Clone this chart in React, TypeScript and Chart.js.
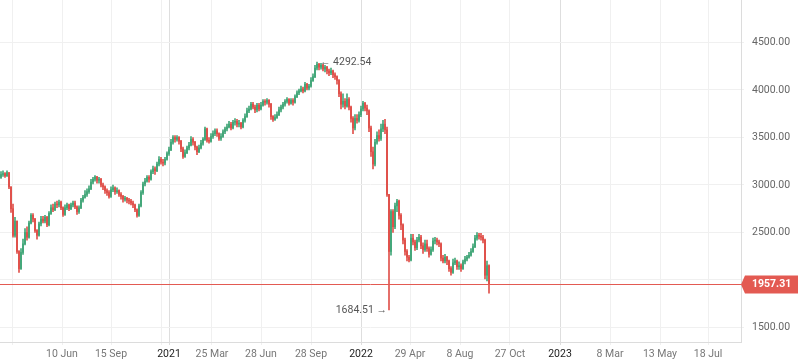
import React, { useEffect, useRef } from 'react';
import { Chart, registerables } from 'chart.js';

Chart.register(...registerables);

// Candles, one per slot. Open = previous close.
const closes: number[] = [
  3110, 3120, 3095, 3130, 2980, 2750, 2470, 2620, 2300, 2120,
  2290, 2380, 2500, 2450, 2600, 2680, 2640, 2520, 2470, 2590,
  2640, 2620, 2660, 2580, 2700, 2760, 2740, 2800, 2790, 2820,
  2760, 2690, 2760, 2790, 2750, 2790, 2810, 2770, 2720, 2760,
  2840, 2870, 2900, 2930, 2960, 3030, 3060, 3085, 3050, 3060,
  3000, 2980, 2940, 2920, 2880, 2950, 2970, 2930, 2940, 2900,
  2880, 2850, 2860, 2840, 2830, 2810, 2790, 2740, 2680, 2780,
  2920, 3010, 3040, 3080, 3060, 3140, 3170, 3150, 3220, 3270,
  3240, 3230, 3270, 3330, 3370, 3450, 3500, 3480, 3500, 3460,
  3380, 3300, 3340, 3390, 3420, 3480, 3450, 3400, 3350, 3390,
  3440, 3480, 3590, 3470, 3460, 3510, 3540, 3570, 3540, 3490,
  3510, 3560, 3590, 3610, 3640, 3600, 3660, 3670, 3640, 3650,
  3610, 3680, 3720, 3780, 3800, 3850, 3820, 3790, 3840, 3800,
  3840, 3880, 3870, 3890, 3850, 3720, 3690, 3710, 3740, 3790,
  3820, 3850, 3880, 3900, 3860, 3890, 3870, 3930, 3970, 3990,
  4010, 3990, 4060, 4020, 4040, 4100, 4140, 4230, 4270, 4240,
  4260, 4220, 4240, 4200, 4180, 4200, 4160, 4140, 4100, 3960,
  3850, 3880, 3830, 3900, 3820, 3700, 3600, 3700, 3680, 3740,
  3800, 3860, 3810, 3780, 3600, 3350, 3220, 3450, 3520, 3490,
  3590, 3640, 3580, 2900, 2300, 2720, 2560, 2780, 2830, 2680,
  2580, 2420, 2300, 2240, 2210, 2440, 2400, 2340, 2420, 2450,
  2360, 2320, 2380, 2330, 2270, 2320, 2410, 2420, 2400, 2380,
  2230, 2200, 2240, 2200, 2120, 2080, 2180, 2200, 2140, 2150,
  2120, 2190, 2220, 2240, 2260, 2300, 2350, 2440, 2470, 2460,
  2450, 2420, 2050, 2150, 1957.31,
];

const highs: number[] = [
  3140, 3150, 3130, 3150, 3130, 2980, 2800, 2660, 2620, 2310,
  2330, 2430, 2540, 2560, 2620, 2700, 2700, 2650, 2530, 2610,
  2670, 2670, 2680, 2670, 2720, 2790, 2800, 2820, 2830, 2840,
  2830, 2770, 2790, 2810, 2800, 2810, 2830, 2830, 2780, 2780,
  2860, 2890, 2940, 2960, 2990, 3060, 3080, 3100, 3090, 3080,
  3070, 3020, 2990, 2960, 2940, 2980, 3000, 2980, 2970, 2950,
  2920, 2890, 2880, 2870, 2860, 2850, 2830, 2800, 2750, 2800,
  2940, 3030, 3070, 3100, 3100, 3160, 3200, 3190, 3240, 3300,
  3290, 3270, 3290, 3350, 3400, 3480, 3520, 3520, 3520, 3510,
  3470, 3400, 3370, 3410, 3450, 3510, 3500, 3460, 3410, 3420,
  3470, 3500, 3610, 3600, 3500, 3540, 3570, 3590, 3590, 3550,
  3540, 3580, 3610, 3640, 3670, 3660, 3680, 3700, 3690, 3680,
  3660, 3700, 3750, 3810, 3830, 3870, 3870, 3840, 3860, 3860,
  3870, 3900, 3900, 3910, 3900, 3860, 3730, 3740, 3770, 3820,
  3840, 3870, 3900, 3920, 3910, 3910, 3910, 3950, 3990, 4010,
  4040, 4030, 4080, 4070, 4060, 4130, 4170, 4260, 4292.54, 4280,
  4280, 4270, 4260, 4250, 4220, 4230, 4210, 4180, 4150, 4110,
  3980, 3960, 3910, 3960, 3920, 3830, 3720, 3740, 3740, 3770,
  3830, 3880, 3870, 3840, 3790, 3620, 3400, 3480, 3560, 3580,
  3640, 3680, 3690, 3610, 2900, 2740, 2740, 2810, 2850, 2840,
  2700, 2590, 2440, 2320, 2260, 2480, 2480, 2420, 2450, 2480,
  2470, 2390, 2420, 2420, 2350, 2350, 2440, 2450, 2440, 2420,
  2390, 2260, 2270, 2250, 2210, 2140, 2220, 2230, 2210, 2190,
  2170, 2210, 2250, 2260, 2290, 2330, 2380, 2470, 2500, 2490,
  2490, 2470, 2430, 2200, 2160,
];

const lows: number[] = [
  3070, 3090, 3080, 3090, 2960, 2710, 2450, 2450, 2280, 2080,
  2110, 2270, 2370, 2420, 2440, 2590, 2610, 2500, 2430, 2460,
  2570, 2600, 2600, 2560, 2570, 2690, 2720, 2730, 2760, 2770,
  2740, 2670, 2680, 2740, 2730, 2740, 2770, 2750, 2690, 2700,
  2750, 2820, 2860, 2880, 2910, 2950, 3010, 3040, 3020, 3020,
  2980, 2950, 2910, 2890, 2860, 2870, 2930, 2900, 2910, 2880,
  2850, 2820, 2830, 2810, 2800, 2790, 2760, 2720, 2660, 2670,
  2770, 2900, 2990, 3030, 3030, 3050, 3120, 3110, 3140, 3200,
  3220, 3200, 3210, 3260, 3310, 3360, 3430, 3450, 3460, 3430,
  3350, 3280, 3290, 3330, 3370, 3410, 3420, 3370, 3320, 3340,
  3380, 3420, 3470, 3450, 3440, 3450, 3490, 3520, 3510, 3470,
  3470, 3500, 3540, 3570, 3600, 3580, 3590, 3630, 3610, 3610,
  3590, 3600, 3660, 3710, 3760, 3790, 3800, 3760, 3770, 3780,
  3790, 3830, 3840, 3850, 3820, 3690, 3670, 3680, 3700, 3730,
  3770, 3800, 3830, 3860, 3840, 3850, 3840, 3860, 3920, 3950,
  3980, 3970, 3980, 4000, 4000, 4030, 4090, 4130, 4210, 4210,
  4220, 4200, 4190, 4170, 4150, 4160, 4130, 4110, 4060, 3930,
  3800, 3820, 3800, 3820, 3790, 3660, 3540, 3580, 3650, 3660,
  3720, 3780, 3780, 3740, 3560, 3300, 3170, 3200, 3430, 3460,
  3470, 3560, 3540, 2880, 1684.51, 2260, 2500, 2540, 2720, 2640,
  2530, 2380, 2260, 2200, 2190, 2200, 2370, 2310, 2320, 2400,
  2330, 2280, 2300, 2300, 2240, 2260, 2300, 2380, 2370, 2350,
  2200, 2180, 2180, 2160, 2090, 2050, 2070, 2160, 2110, 2110,
  2090, 2110, 2170, 2200, 2230, 2250, 2290, 2340, 2420, 2430,
  2420, 2390, 2010, 1990, 1862,
];
const firstOpen = 3080;

// Annotated candles
const peakIndex = 158;
const troughIndex = 194;
const lastPrice = 1957.31;

// Time-axis ticks (slot index of each date mark) and their labels
const tickSlots = [5.5, 30.5, 55, 80, 84, 105.5, 130, 155, 180, 204.5, 229.5, 254.5, 279.5, 304.5, 329.5, 353.5];
const tickLabels = ['', '10 Jun', '15 Sep', '', '2021', '25 Mar', '28 Jun', '28 Sep', '2022', '29 Apr', '8 Aug', '27 Oct', '2023', '8 Mar', '13 May', '18 Jul'];
const yearLabels = ['2021', '2022', '2023'];
const priceTicks = [1500, 2000, 2500, 3000, 3500, 4000, 4500];

const UP = '#45a87b';
const DOWN = '#e0524c';
const PRICE = '#e35a52';
const FONT = 'Roboto';

export default function App() {
  const ref = useRef<HTMLCanvasElement | null>(null);

  useEffect(() => {
    if (!ref.current) return;
    const opens = closes.map((c, i) => (i === 0 ? firstOpen : closes[i - 1]));
    const colors = closes.map((c, i) => (c >= opens[i] ? UP : DOWN));
    const peakHigh = highs[peakIndex];
    const troughLow = lows[troughIndex];

    const overlay = {
      id: 'overlay',
      afterDatasetsDraw(chart: any) {
        const { ctx, chartArea, scales } = chart;
        const y = Math.round(scales.y.getPixelForValue(lastPrice)) + 0.5;
        ctx.save();
        ctx.strokeStyle = PRICE;
        ctx.lineWidth = 1;
        ctx.beginPath();
        ctx.moveTo(chartArea.left, y);
        ctx.lineTo(chartArea.right, y);
        ctx.stroke();
        ctx.restore();
      },
      afterDraw(chart: any) {
        const { ctx, chartArea, scales } = chart;
        const xs = scales.x;
        const ys = scales.y;
        ctx.save();
        ctx.font = `10.5px ${FONT}`;
        ctx.fillStyle = '#555555';
        ctx.textBaseline = 'middle';
        ctx.textAlign = 'left';
        ctx.fillText('← ' + peakHigh.toFixed(2), xs.getPixelForValue(peakIndex) + 3, ys.getPixelForValue(peakHigh));
        ctx.textAlign = 'right';
        ctx.fillText(troughLow.toFixed(2) + ' →', xs.getPixelForValue(troughIndex) - 2, ys.getPixelForValue(troughLow));
        const py = Math.round(ys.getPixelForValue(lastPrice)) + 0.5;
        const left = chartArea.right;
        const right = chart.width;
        ctx.fillStyle = PRICE;
        ctx.beginPath();
        ctx.moveTo(left, py);
        ctx.lineTo(left + 4, py - 9);
        ctx.lineTo(right, py - 9);
        ctx.lineTo(right, py + 9);
        ctx.lineTo(left + 4, py + 9);
        ctx.closePath();
        ctx.fill();
        ctx.fillStyle = '#ffffff';
        ctx.font = `bold 10.5px ${FONT}`;
        ctx.textAlign = 'left';
        ctx.fillText(lastPrice.toFixed(2), left + 11, py);
        ctx.restore();
      },
    };

    const chart = new Chart(ref.current, {
      type: 'bar',
      data: {
        datasets: [
          {
            label: 'wick',
            data: closes.map((c, i) => ({ x: i, y: [lows[i], highs[i]] })) as any,
            backgroundColor: colors,
            barThickness: 1,
            grouped: false,
          } as any,
          {
            label: 'body',
            data: closes.map((c, i) => ({ x: i, y: [opens[i], c] })) as any,
            backgroundColor: colors,
            barThickness: 1.4,
            grouped: false,
          } as any,
        ],
      },
      options: {
        animation: false,
        responsive: true,
        maintainAspectRatio: false,
        layout: { padding: 0 },
        plugins: { legend: { display: false }, tooltip: { enabled: false } },
        scales: {
          x: {
            type: 'linear',
            position: 'bottom',
            min: -0.5,
            max: 370,
            offset: false,
            bounds: 'data',
            afterBuildTicks: (s: any) => {
              s.ticks = tickSlots.map((v) => ({ value: v }));
            },
            afterFit: (s: any) => {
              s.height = 21;
              s.paddingLeft = 0;
              s.paddingRight = 0;
            },
            ticks: {
              autoSkip: false,
              maxRotation: 0,
              padding: 3,
              callback: (_v: any, i: number) => tickLabels[i],
              color: (c: any) => (yearLabels.includes(tickLabels[c.index]) ? '#222222' : '#777777'),
              font: { family: FONT, size: 10.5 },
            },
            grid: {
              offset: false,
              color: (c: any) => (yearLabels.includes(tickLabels[c.index]) ? '#dedede' : '#f0f0f0'),
              tickLength: 3,
            },
            border: { color: '#dcdcdc' },
          } as any,
          y: {
            type: 'linear',
            position: 'right',
            min: 1347,
            max: 4947,
            bounds: 'data',
            afterBuildTicks: (s: any) => {
              s.ticks = priceTicks.map((v) => ({ value: v }));
            },
            afterFit: (s: any) => {
              s.width = 57;
              s.paddingTop = 0;
              s.paddingBottom = 0;
            },
            ticks: {
              padding: 8,
              color: '#666666',
              font: { family: FONT, size: 10.5 },
              callback: (v: any) => (v === 2000 ? '' : Number(v).toFixed(2)),
            },
            grid: { color: '#f0f0f0', tickLength: 3 },
            border: { color: '#dcdcdc' },
          } as any,
        },
      },
      plugins: [overlay],
    });
    return () => chart.destroy();
  }, []);

  return (
    <div style={{ position: 'fixed', left: 0, top: 0, width: 798, height: 363, background: '#ffffff' }}>
      <canvas ref={ref} />
    </div>
  );
}
